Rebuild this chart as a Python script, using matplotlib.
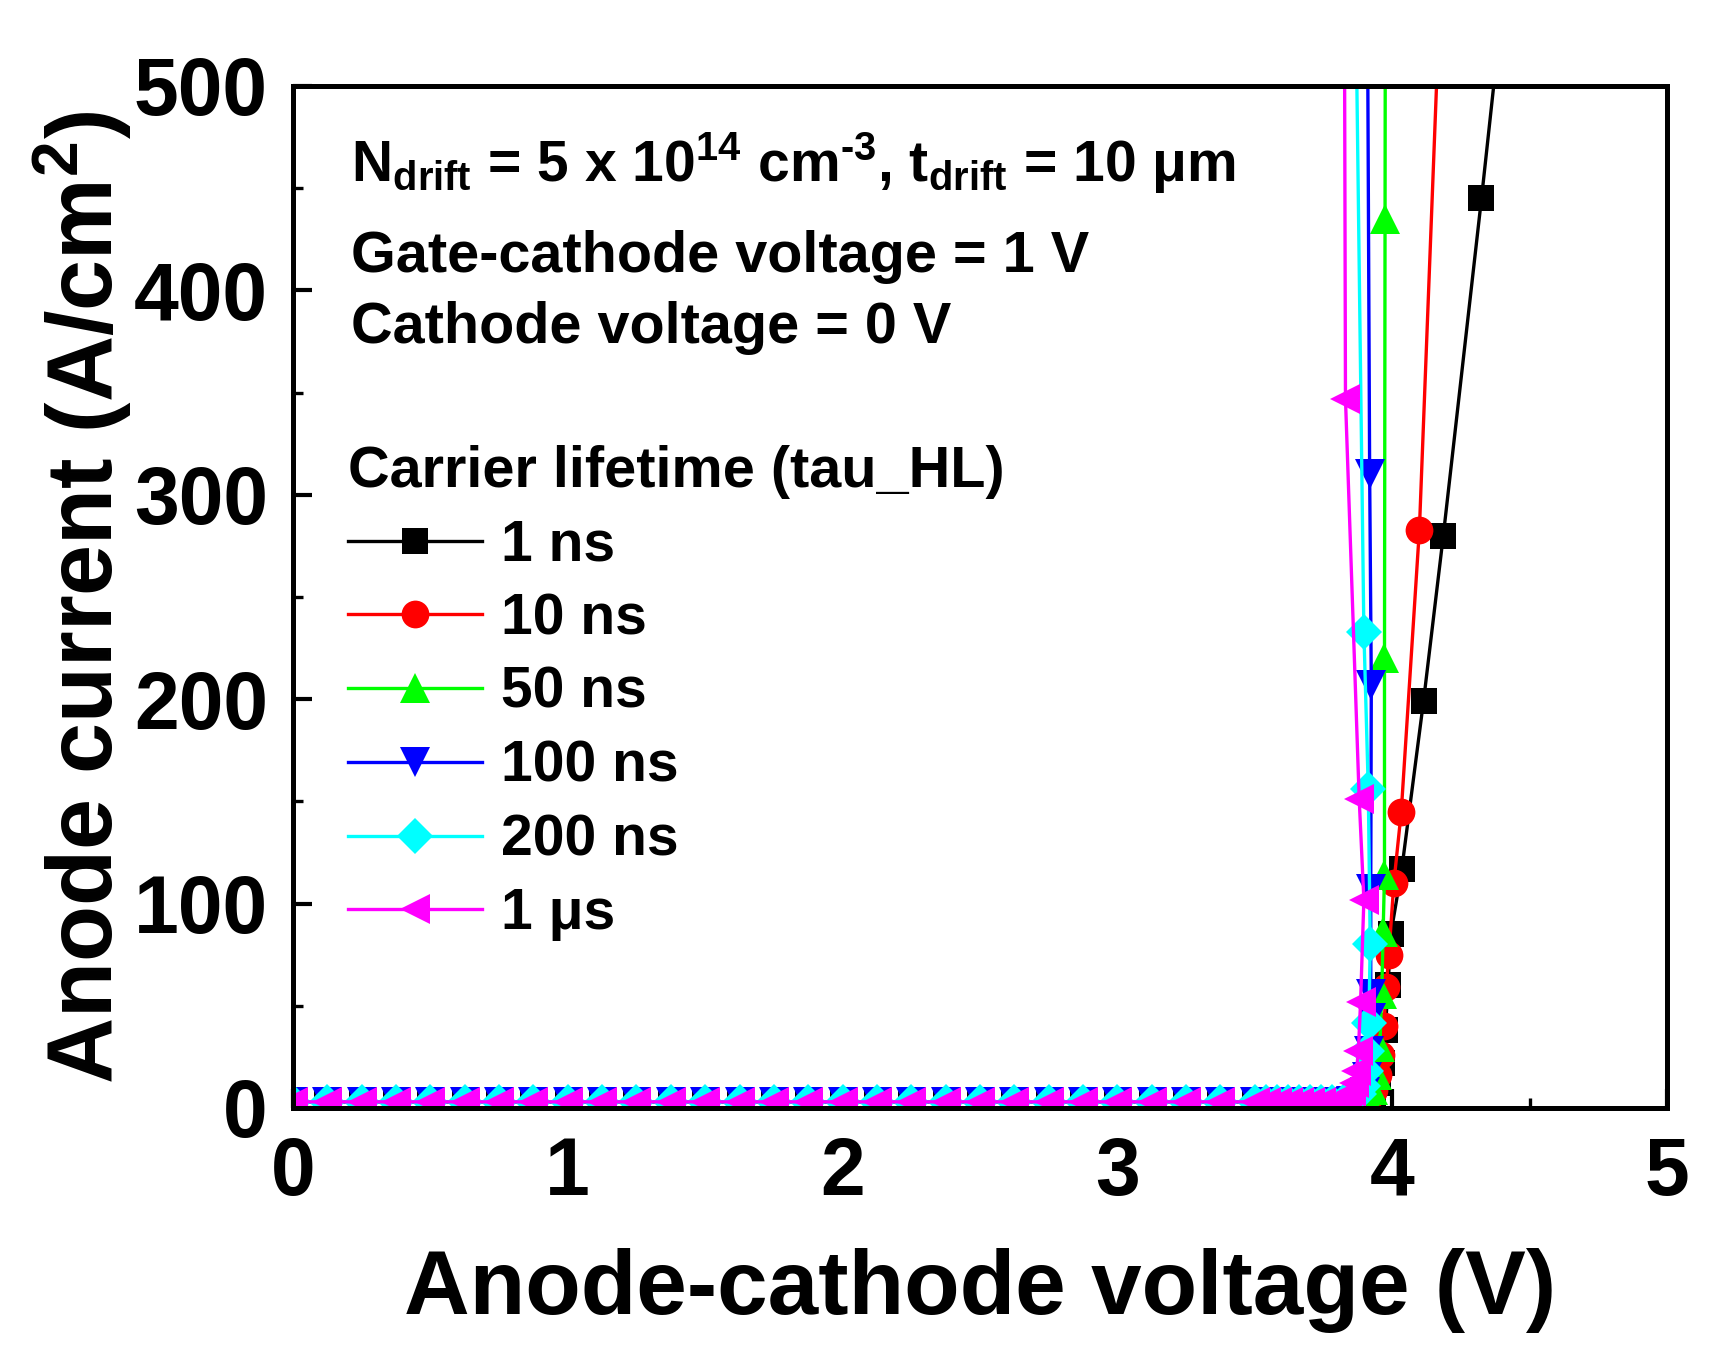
import matplotlib
matplotlib.use("Agg")
import matplotlib.pyplot as plt
from matplotlib.ticker import MultipleLocator

plt.rcParams['font.family'] = ['Liberation Sans', 'DejaVu Sans']
plt.rcParams['font.weight'] = 'bold'
plt.rcParams['mathtext.fontset'] = 'custom'
plt.rcParams['mathtext.rm'] = 'Liberation Sans:bold'
plt.rcParams['mathtext.it'] = 'Liberation Sans:bold'
plt.rcParams['mathtext.bf'] = 'Liberation Sans:bold'
plt.rcParams['mathtext.sf'] = 'Liberation Sans:bold'
plt.rcParams['mathtext.default'] = 'rm'

# ---- data ----
low_bias_v = [0.0, 0.125, 0.25, 0.375, 0.5, 0.625, 0.75, 0.875, 1.0, 1.125,
              1.25, 1.375, 1.5, 1.625, 1.75, 1.875, 2.0, 2.125, 2.25, 2.375,
              2.5, 2.625, 2.75, 2.875, 3.0, 3.125, 3.25, 3.375, 3.5, 3.54,
              3.58, 3.62, 3.66, 3.70, 3.74, 3.78]
low_bias_j = [3, 3, 3, 3, 3, 3, 3, 3, 3, 3,
              3, 3, 3, 3, 3, 3, 3, 3, 3, 3,
              3, 3, 3, 3, 3, 3, 3, 3, 3, 3,
              3, 3, 3, 3, 3, 3]

v_1ns = [3.82, 3.86, 3.90, 3.93, 3.95, 3.963, 3.975, 3.985, 3.995, 4.035, 4.114, 4.186, 4.325, 4.45]
j_1ns = [3, 3.2, 4, 7, 12, 22, 38, 60, 85, 117, 199, 280, 445, 600]

v_10ns = [3.82, 3.86, 3.90, 3.92, 3.935, 3.95, 3.96, 3.97, 3.978, 3.988, 4.006, 4.033, 4.099, 4.19]
j_10ns = [3, 3.2, 4, 6, 9, 16, 26, 40, 59, 75, 110, 145, 283, 600]

v_50ns = [3.82, 3.86, 3.89, 3.91, 3.93, 3.945, 3.955, 3.962, 3.967, 3.972, 3.972, 3.974, 3.976]
j_50ns = [3, 3.2, 4, 6, 9, 16, 30, 56, 86, 114, 220, 435, 650]

v_100ns = [3.82, 3.85, 3.88, 3.90, 3.91, 3.915, 3.922, 3.922, 3.922, 3.924, 3.918, 3.908]
j_100ns = [3, 3.5, 5, 8, 15, 28, 44, 56, 107, 207, 310, 600]

v_200ns = [3.82, 3.84, 3.86, 3.88, 3.895, 3.905, 3.91, 3.915, 3.92, 3.913, 3.897, 3.862]
j_200ns = [3, 3.5, 5, 7, 11, 18, 28, 41.6, 80, 156, 233, 600]

v_1us = [3.80, 3.82, 3.835, 3.85, 3.86, 3.87, 3.877, 3.885, 3.897, 3.88, 3.83, 3.825]
j_1us = [3, 4, 6, 8, 12, 18, 28, 52, 102, 151, 347, 600]

labels = ["1 ns", "10 ns", "50 ns", "100 ns", "200 ns", "1 \u03bcs"]
colors = ["#000000", "#ff0000", "#00ff00", "#0000ff", "#00ffff", "#ff00ff"]
markers = ["s", "o", "^", "v", "D", "<"]
msizes = [18.5, 20, 21, 21, 18.5, 22]
series_v = [v_1ns, v_10ns, v_50ns, v_100ns, v_200ns, v_1us]
series_j = [j_1ns, j_10ns, j_50ns, j_100ns, j_200ns, j_1us]

x_ticks = [0, 1, 2, 3, 4, 5]
y_ticks = [0, 100, 200, 300, 400, 500]

# ---- figure ----
fig = plt.figure(figsize=(17.24, 13.63), dpi=100)
ax = fig.add_axes([0.16995, 0.18709, 0.79698, 0.74982])

for v, j, lab, c, m, ms in zip(series_v, series_j, labels, colors, markers, msizes):
    ax.plot(low_bias_v + v, low_bias_j + j, color=c, marker=m, ms=ms,
            mec=c, mew=0, lw=2.4, label=lab)

ax.set_xlim(0, 5)
ax.set_ylim(0, 500)
ax.set_xticks(x_ticks)
ax.set_yticks(y_ticks)
ax.xaxis.set_minor_locator(MultipleLocator(0.5))
ax.yaxis.set_minor_locator(MultipleLocator(50))
ax.tick_params(which='both', direction='in', top=False, right=False)
ax.tick_params(which='major', length=14, width=3)
ax.tick_params(which='minor', length=7, width=2.4)
ax.tick_params(axis='x', which='major', labelsize=58, pad=20)
ax.tick_params(axis='y', which='major', labelsize=58, pad=18)
for lbl in ax.get_xticklabels() + ax.get_yticklabels():
    lbl.set_fontweight('bold')
for s in ax.spines.values():
    s.set_linewidth(3.6)

ax.set_xlabel("Anode-cathode voltage (V)", fontsize=65.5, fontweight='bold')
ax.set_ylabel("Anode current (A/cm$^{2}$)", fontsize=66, fontweight='bold')
ax.xaxis.set_label_coords(0.5, -0.137)
ax.yaxis.set_label_coords(-0.1157, 0.5)

ax.text(0.042, 0.906,
        "N$_{drift}$ = 5 x 10$^{14}$ cm$^{\\text{-}3}$, t$_{drift}$ = 10 \u03bcm",
        transform=ax.transAxes, fontsize=41, fontweight='bold', va='baseline')
ax.text(0.042, 0.818, "Gate-cathode voltage = 1 V",
        transform=ax.transAxes, fontsize=41.5, fontweight='bold', va='baseline')
ax.text(0.042, 0.7485, "Cathode voltage = 0 V",
        transform=ax.transAxes, fontsize=41.5, fontweight='bold', va='baseline')

leg = ax.legend(loc='upper left', bbox_to_anchor=(0.040, 0.649), frameon=False,
                fontsize=41, title="Carrier lifetime (tau_HL)",
                title_fontproperties={'size': 41.5, 'weight': 'bold'},
                alignment='left', handlelength=2.35, handletextpad=0.33,
                labelspacing=0.347, borderpad=0, borderaxespad=0, numpoints=1)
for t in leg.get_texts():
    t.set_fontweight('bold')

fig.savefig("out.png", dpi=100)
